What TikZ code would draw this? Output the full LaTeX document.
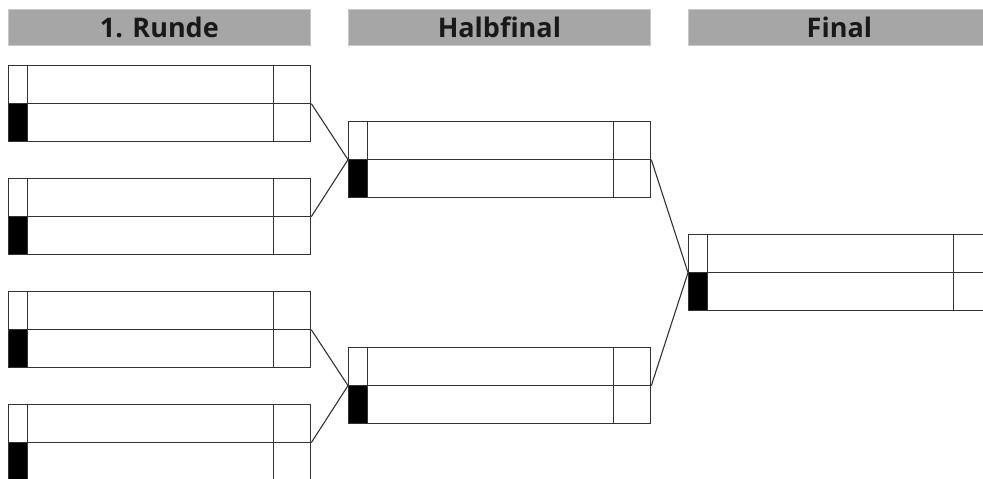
\documentclass[tikz,border=0pt]{standalone}
\usepackage{fontspec}
\setmainfont{Open Sans}
\definecolor{linec}{HTML}{333333}
\definecolor{barfill}{HTML}{A6A6A6}
\definecolor{barline}{HTML}{C8C8C8}
\begin{document}
\begin{tikzpicture}[x=1pt,y=-1pt,
  header/.style={fill=barfill, draw=barline, line width=0.8pt, anchor=north west,
    minimum width=302pt, minimum height=36pt, inner sep=0pt,
    font=\fontsize{27}{30}\selectfont\bfseries, text=black!90},
  match/.style={draw=linec, line width=1.3pt, anchor=north west,
    minimum width=302pt, minimum height=76pt, inner sep=0pt,
    path picture={
      \fill[black] (path picture bounding box.west) rectangle
        ([xshift=19pt]path picture bounding box.south west);
      \draw[linec, line width=1.3pt] (path picture bounding box.west) -- (path picture bounding box.east);
      \draw[linec, line width=1.3pt] ([xshift=19pt]path picture bounding box.north west) --
        ([xshift=19pt]path picture bounding box.south west);
      \draw[linec, line width=1.3pt] ([xshift=-37pt]path picture bounding box.north east) --
        ([xshift=-37pt]path picture bounding box.south east);
    }},
  link/.style={draw=linec, line width=1.1pt}]
\useasboundingbox (0,0) rectangle (983,479);
\clip (0,0) rectangle (983,479);
\fill[white] (0,0) rectangle (983,479);

% round headings
\node[header] (h1) at (8,9) {1. Runde};
\node[header] (h2) at (348,9) {Halbfinal};
\node[header] (h3) at (688,9) {Final};

% first round
\node[match] (r1) at (8,65) {};
\node[match] (r2) at (8,178) {};
\node[match] (r3) at (8,291) {};
\node[match] (r4) at (8,404) {};

% semi-finals
\node[match] (s1) at (348,121) {};
\node[match] (s2) at (348,347) {};

% final
\node[match] (f1) at (688,234) {};

% bracket connectors
\draw[link] (r1.east) -- (s1.west);
\draw[link] (r2.east) -- (s1.west);
\draw[link] (r3.east) -- (s2.west);
\draw[link] (r4.east) -- (s2.west);
\draw[link] (s1.east) -- (f1.west);
\draw[link] (s2.east) -- (f1.west);
\end{tikzpicture}
\end{document}
